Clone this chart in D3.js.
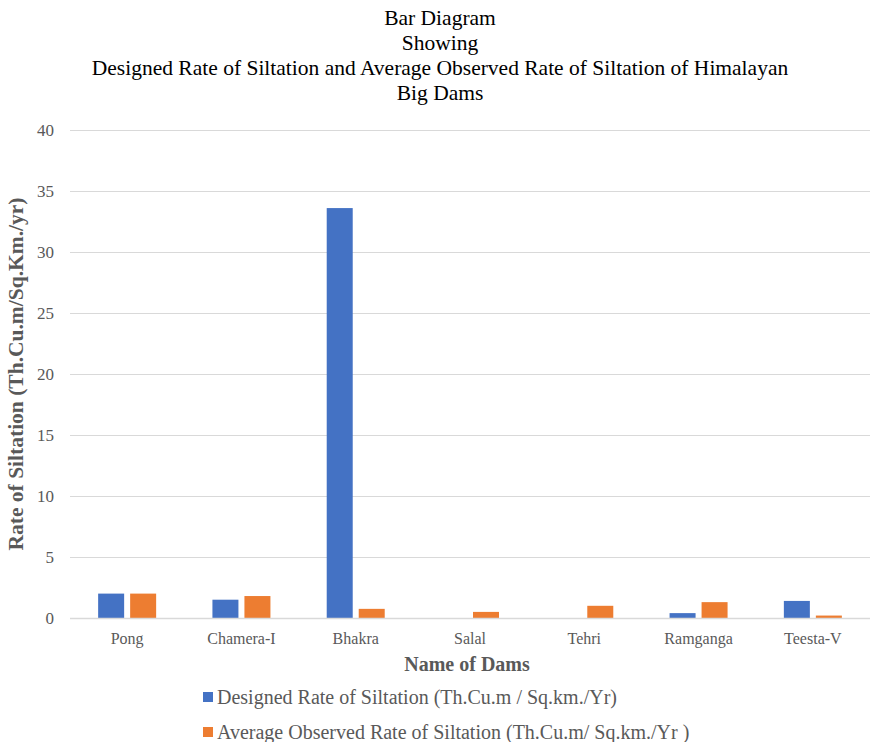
<!DOCTYPE html>
<html>
<head>
<meta charset="utf-8">
<script src="https://cdn.jsdelivr.net/npm/d3@7"></script>
<style>
  body { margin: 0; background: #fff; }
  svg { display: block; font-family: "Liberation Serif", "Times New Roman", serif; }
</style>
</head>
<body>
<svg id="chart" width="874" height="742"></svg>
<script>
// Dams and siltation rates (Th.Cu.m / Sq.km / Yr)
const dams = ["Pong", "Chamera-I", "Bhakra", "Salal", "Tehri", "Ramganga", "Teesta-V"];
const designedRate = [2.0, 1.5, 33.6, 0, 0, 0.4, 1.4];
const observedRate = [2.0, 1.8, 0.75, 0.5, 1.0, 1.3, 0.2];
const yTicks = [0, 5, 10, 15, 20, 25, 30, 35, 40];
const seriesNames = [
  "Designed Rate of Siltation (Th.Cu.m / Sq.km./Yr)",
  "Average Observed Rate of Siltation (Th.Cu.m/ Sq.km./Yr )"
];
const seriesColors = ["#4472c4", "#ed7d31"];
const titleLines = [
  "Bar Diagram",
  "Showing",
  "Designed Rate of Siltation and Average Observed Rate of Siltation of Himalayan",
  "Big Dams"
];

const svg = d3.select("#chart");
const plot = { left: 70, right: 870, top: 130, bottom: 618 };

const x = d3.scaleBand().domain(dams).range([plot.left, plot.right]);
const y = d3.scaleLinear().domain([0, 40]).range([plot.bottom, plot.top]);

const barW = 26, barGap = 6;
const xs = d3.scaleOrdinal().domain([0, 1]).range([
  x.bandwidth() / 2 - barGap / 2 - barW,
  x.bandwidth() / 2 + barGap / 2
]);

// Title
svg.append("g").selectAll("text").data(titleLines).join("text")
  .attr("x", 440).attr("y", (d, i) => 25 + i * 25)
  .attr("text-anchor", "middle")
  .attr("font-size", 21.5).attr("fill", "#000")
  .text(d => d);

// Gridlines
svg.append("g").selectAll("line").data(yTicks).join("line")
  .attr("x1", plot.left).attr("x2", plot.right)
  .attr("y1", d => y(d) + 0.5).attr("y2", d => y(d) + 0.5)
  .attr("stroke", "#d9d9d9").attr("stroke-width", 1);

// Y axis labels
const yAxis = d3.axisLeft(y).tickValues(yTicks).tickSize(0).tickPadding(0);
const gy = svg.append("g").attr("transform", `translate(${plot.left - 16},0)`).call(yAxis);
gy.select(".domain").remove();
gy.selectAll("text").attr("font-size", 17).attr("fill", "#595959")
  .attr("font-family", "Liberation Serif, serif");

// Bars
const series = [designedRate, observedRate];
series.forEach((vals, s) => {
  svg.append("g").selectAll("rect").data(dams).join("rect")
    .attr("x", d => x(d) + xs(s))
    .attr("width", barW)
    .attr("y", (d, i) => y(vals[i]))
    .attr("height", (d, i) => y(0) - y(vals[i]))
    .attr("fill", seriesColors[s]);
});

// X axis
const xAxis = d3.axisBottom(x).tickSize(0).tickPadding(0);
const gx = svg.append("g").attr("transform", `translate(0,${plot.bottom + 26})`).call(xAxis);
gx.select(".domain").remove();
gx.selectAll("text").attr("font-size", 16).attr("fill", "#595959")
  .attr("font-family", "Liberation Serif, serif").attr("dy", 0);
svg.append("line")
  .attr("x1", plot.left).attr("x2", plot.right)
  .attr("y1", y(0) + 0.5).attr("y2", y(0) + 0.5)
  .attr("stroke", "#d9d9d9").attr("stroke-width", 1.5);

// Axis titles
svg.append("text")
  .attr("x", (plot.left + plot.right) / 2 - 3).attr("y", 671)
  .attr("text-anchor", "middle").attr("font-size", 20).attr("font-weight", "bold")
  .attr("fill", "#595959").text("Name of Dams");
svg.append("text")
  .attr("transform", `translate(23,${(plot.top + plot.bottom) / 2}) rotate(-90)`)
  .attr("text-anchor", "middle").attr("font-size", 21.5).attr("font-weight", "bold")
  .attr("fill", "#595959").text("Rate of Siltation (Th.Cu.m/Sq.Km./yr)");

// Legend
const lg = svg.append("g").selectAll("g").data(seriesNames).join("g")
  .attr("transform", (d, i) => `translate(203,${697 + i * 35})`);
lg.append("rect").attr("x", 0).attr("y", -5).attr("width", 10).attr("height", 10)
  .attr("fill", (d, i) => seriesColors[i]);
lg.append("text").attr("x", 14).attr("y", 6.5)
  .attr("font-size", 20).attr("fill", "#595959").text(d => d);
</script>
</body>
</html>
